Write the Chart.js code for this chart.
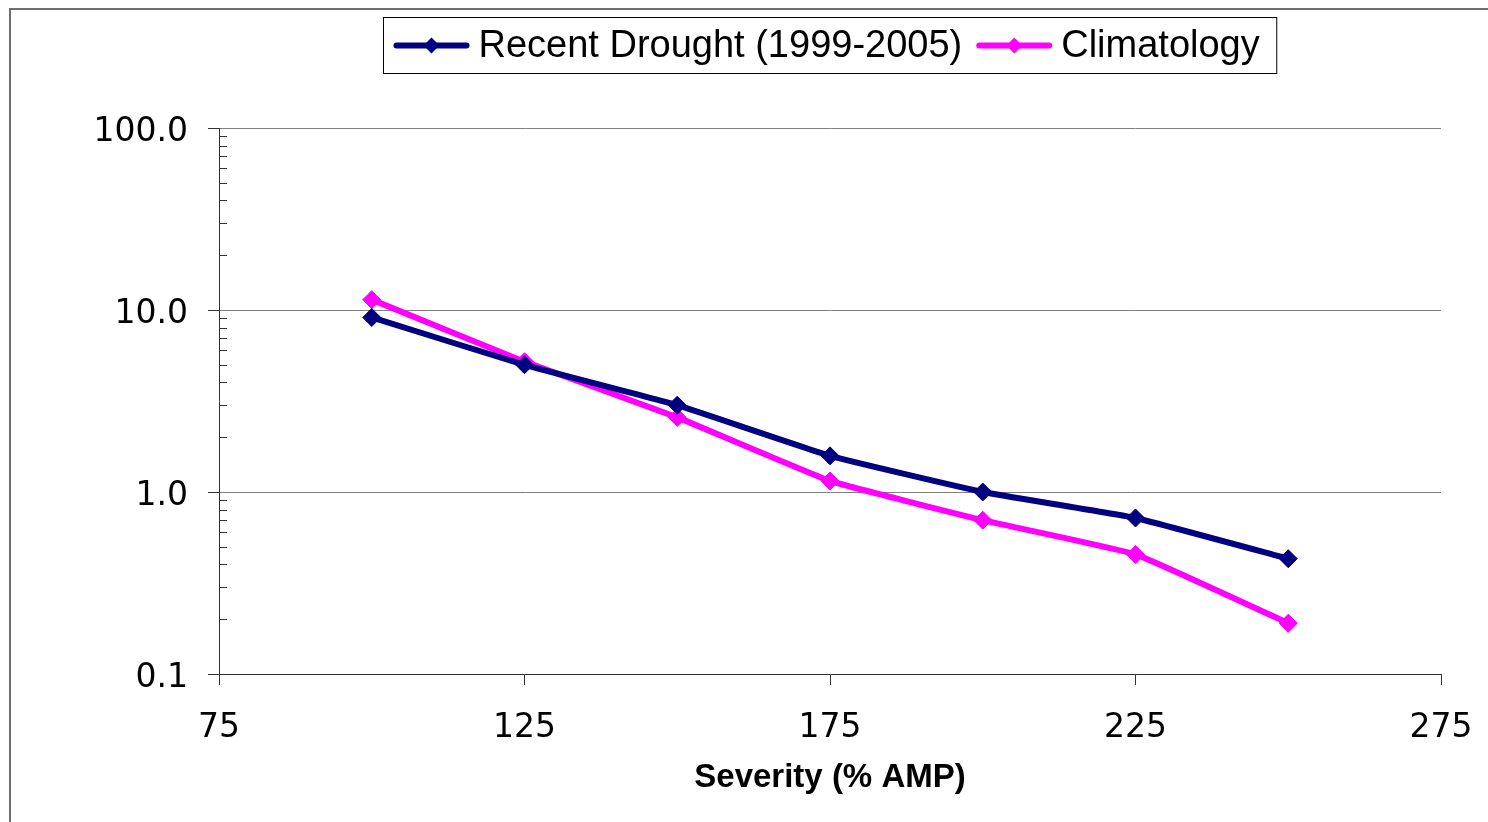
<!DOCTYPE html>
<html>
<head>
<meta charset="utf-8">
<script src="https://cdn.jsdelivr.net/npm/chart.js@4/dist/chart.umd.min.js"></script>
<style>
  html, body { margin: 0; padding: 0; background: #fff; }
  #wrap { width: 1488px; height: 822px; }
</style>
</head>
<body>
<div id="wrap"><canvas id="droughtChart" width="1488" height="822"></canvas></div>
<script>
// values
const severity = [100, 125, 150, 175, 200, 225, 250];
const recentDrought = [9.1, 5.0, 3.0, 1.58, 1.0, 0.72, 0.43];
const climatology = [11.4, 5.2, 2.57, 1.15, 0.70, 0.454, 0.19];
const seriesNames = ['Recent Drought (1999-2005)', 'Climatology'];
const yTicks = [0.1, 1, 10, 100];
const yTickLabels = ['0.1', '1.0', '10.0', '100.0'];
const xTitle = 'Severity (% AMP)';

const NAVY = '#000080';
const MAGENTA = '#ff00ff';

const toPoints = (xs, ys) => xs.map((x, i) => ({ x: x, y: ys[i] }));

// frame, boxed legend and the small inside ticks of the log axis
const extras = {
    id: 'extras',
    beforeDraw(chart) {
        const ctx = chart.ctx;
        ctx.save();
        ctx.fillStyle = '#fff';
        ctx.fillRect(0, 0, chart.width, chart.height);
        ctx.restore();
    },
    afterDraw(chart) {
        const ctx = chart.ctx;
        const y = chart.scales.y;
        ctx.save();

        // outer frame (only left and top show)
        ctx.strokeStyle = '#6e6e6e';
        ctx.lineWidth = 2;
        ctx.strokeRect(10, 9, chart.width + 20, chart.height + 20);

        // minor ticks inside the plot
        ctx.strokeStyle = '#333';
        ctx.lineWidth = 1;
        for (let d = 0; d < yTicks.length - 1; d++) {
            for (let k = 2; k <= 9; k++) {
                const py = Math.round(y.getPixelForValue(yTicks[d] * k)) + 0.5;
                ctx.beginPath();
                ctx.moveTo(y.right, py);
                ctx.lineTo(y.right + 8, py);
                ctx.stroke();
            }
        }

        // legend
        ctx.font = '38px "Liberation Sans", Arial, sans-serif';
        const sample = 76, gap = 9, itemGap = 14, padL = 10, padR = 17;
        const widths = seriesNames.map(t => ctx.measureText(t).width);
        let total = padL + padR;
        widths.forEach((w, i) => { total += sample + gap + w + (i ? itemGap : 0); });
        const cx = (chart.chartArea.left + chart.chartArea.right) / 2;
        const bx = Math.round(cx - total / 2) + 0.5;
        const by = 17.5, bh = 56;
        ctx.strokeStyle = '#000';
        ctx.lineWidth = 1;
        ctx.strokeRect(bx, by, total, bh);

        let x = bx + padL;
        const ly = by + bh / 2;
        chart.data.datasets.forEach((ds, i) => {
            if (i) x += itemGap;
            ctx.strokeStyle = ds.borderColor;
            ctx.lineWidth = 6;
            ctx.lineCap = 'round';
            ctx.beginPath();
            ctx.moveTo(x + 3, ly);
            ctx.lineTo(x + sample - 3, ly);
            ctx.stroke();
            const mx = x + sample / 2, r = 8;
            ctx.fillStyle = ds.borderColor;
            ctx.beginPath();
            ctx.moveTo(mx, ly - r);
            ctx.lineTo(mx + r, ly);
            ctx.lineTo(mx, ly + r);
            ctx.lineTo(mx - r, ly);
            ctx.closePath();
            ctx.fill();
            x += sample + gap;
            ctx.fillStyle = '#000';
            ctx.textBaseline = 'middle';
            ctx.textAlign = 'left';
            ctx.fillText(seriesNames[i], x, ly + 1);
            x += widths[i];
        });
        ctx.restore();
    }
};

const ctx = document.getElementById('droughtChart').getContext('2d');
new Chart(ctx, {
    type: 'line',
    data: {
        datasets: [
            {
                label: seriesNames[0],
                data: toPoints(severity, recentDrought),
                borderColor: NAVY,
                backgroundColor: NAVY,
                borderWidth: 6,
                pointStyle: 'rectRot',
                pointRadius: 9,
                pointBorderWidth: 1,
                tension: 0.1
            },
            {
                label: seriesNames[1],
                data: toPoints(severity, climatology),
                borderColor: MAGENTA,
                backgroundColor: MAGENTA,
                borderWidth: 6,
                pointStyle: 'rectRot',
                pointRadius: 9,
                pointBorderWidth: 1,
                tension: 0.1
            }
        ]
    },
    options: {
        responsive: false,
        animation: false,
        layout: { padding: { left: 0, right: 47, top: 128, bottom: 0 } },
        plugins: {
            legend: { display: false },
            tooltip: { enabled: false }
        },
        scales: {
            x: {
                type: 'linear',
                min: 75,
                max: 275,
                afterFit: s => {
                    s.height = 148;
                    s.paddingLeft = 0;
                    s.paddingRight = 0;
                },
                ticks: {
                    stepSize: 50,
                    padding: 24,
                    color: '#000',
                    font: { family: '"DejaVu Sans", Verdana, sans-serif', size: 33 }
                },
                grid: {
                    drawOnChartArea: false,
                    tickLength: 11,
                    tickColor: '#333'
                },
                border: { color: '#333', width: 1 },
                title: {
                    display: true,
                    text: xTitle,
                    color: '#000',
                    padding: { top: 0, bottom: 24 },
                    font: { family: '"Liberation Sans", Arial, sans-serif', size: 33, weight: 'bold' }
                }
            },
            y: {
                type: 'logarithmic',
                min: 0.1,
                max: 100,
                afterFit: s => { s.width = 219; },
                afterBuildTicks: s => { s.ticks = yTicks.map(v => ({ value: v })); },
                ticks: {
                    autoSkip: false,
                    padding: 20,
                    labelOffset: 4,
                    color: '#000',
                    font: { family: '"DejaVu Sans", Verdana, sans-serif', size: 33 },
                    callback: v => {
                        const i = yTicks.indexOf(v);
                        return i >= 0 ? yTickLabels[i] : null;
                    }
                },
                grid: {
                    color: '#808080',
                    lineWidth: 1,
                    tickLength: 11,
                    tickColor: '#333'
                },
                border: { color: '#333', width: 1 }
            }
        }
    },
    plugins: [extras]
});
</script>
</body>
</html>
